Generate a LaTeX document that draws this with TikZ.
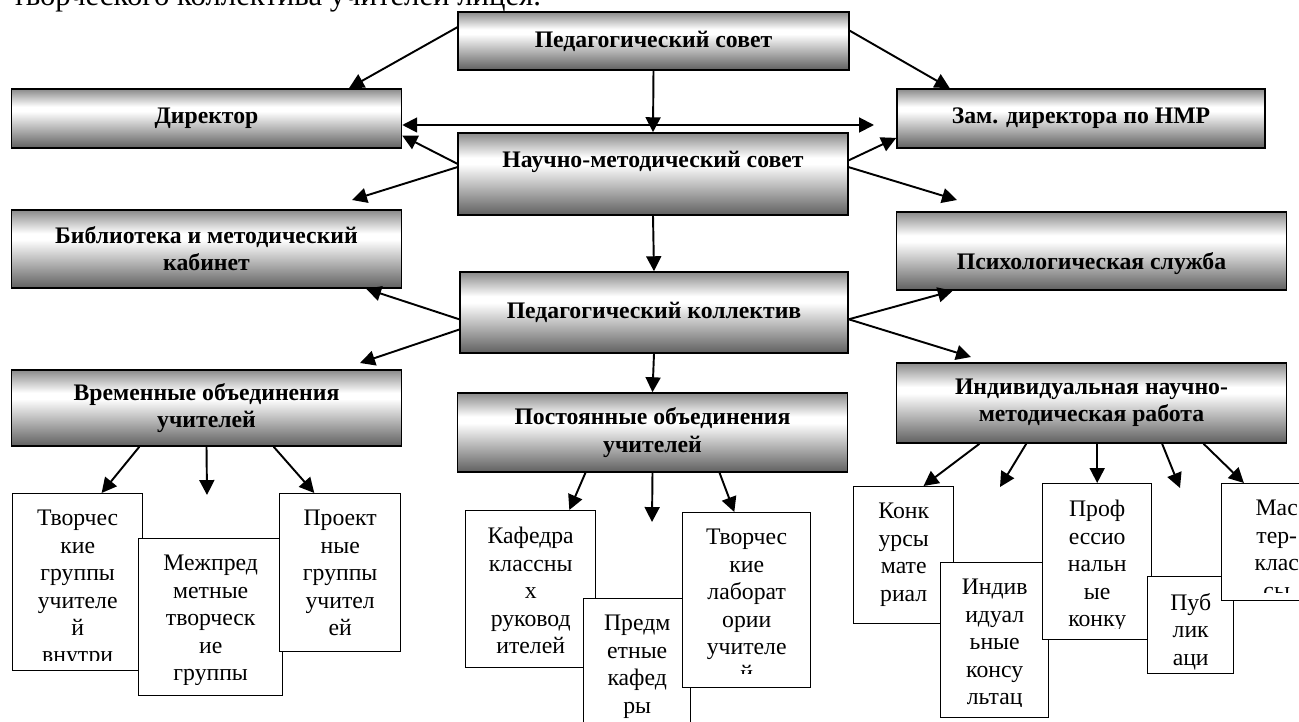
\documentclass[tikz,border=0pt]{standalone}
\usepackage{fontspec}
\setmainfont{Liberation Serif}
\usetikzlibrary{arrows.meta,calc}
\definecolor{boxtop}{RGB}{138,138,138}
\definecolor{boxbot}{RGB}{96,96,96}
\pgfdeclareverticalshading{boxshade}{100bp}{color(0bp)=(boxbot); color(25bp)=(boxbot); color(56bp)=(white); color(60bp)=(white); color(75bp)=(boxtop); color(100bp)=(boxtop)}
% white box with its text cut off at the bottom
\newcommand{\cutbox}[7][12]{%
  \node[wbox,minimum width=#5*0.02cm,minimum height=#6*0.02cm] (#2) at (#3,#4) {};
  \begin{scope}
    \clip ($(#2.north west)+(2,2)$) rectangle ($(#2.south east)+(-2,-#1)$);
    \node[wtext] (#2-t) at ($(#2.north)+(0,17)$) {#7};
  \end{scope}}

\begin{document}
\begin{tikzpicture}[x=0.02cm, y=-0.02cm, >={Triangle[length=8.5pt,width=8.5pt]},
    gbox/.style={draw=black,line width=0.9pt,shading=boxshade,minimum width=7.8cm,align=center,inner sep=2pt,font=\bfseries\fontsize{13.5}{15.5}\selectfont},
    wbox/.style={draw=black,line width=0.8pt,fill=white,anchor=north west,inner sep=0pt},
    wtext/.style={anchor=north,inner sep=0pt,align=center,font=\fontsize{13.5}{15.6}\selectfont},
    arr/.style={->,line width=1.1pt}]
  \useasboundingbox (0,0) rectangle (1299,722);
  \node[anchor=base west,inner sep=0pt,font=\fontsize{17.5}{20}\selectfont] (title) at (12,6) {творческого коллектива учителей лицея.};

  \node[gbox,minimum width=7.82cm,minimum height=1.16cm] (ps) at (653.5,41) {Педагогический совет};
  \node[gbox,minimum height=1.18cm] (dir) at (206.5,118.5) {Директор};
  \node[gbox,minimum width=7.36cm,minimum height=1.18cm] (zam) at (1081,118.5) {Зам. директора по НМР};
  \node[gbox,minimum height=1.64cm,text height=9pt,text depth=16pt] (nms) at (653,174) {Научно-методический совет};
  \node[gbox,minimum height=1.56cm] (bib) at (206.5,249) {Библиотека и методический\\кабинет};
  \node[gbox,minimum height=1.56cm,text height=24.6pt,text depth=3pt] (psych) at (1091.5,251) {Психологическая служба};
  \node[gbox,minimum width=7.76cm,minimum height=1.62cm] (pk) at (654,312.5) {Педагогический коллектив};
  \node[gbox,minimum height=1.52cm] (vr) at (206.5,408) {Временные объединения\\учителей};
  \node[gbox,minimum height=1.58cm] (post) at (652.5,432.5) {Постоянные объединения\\учителей};
  \node[gbox,minimum height=1.6cm] (ind) at (1091.5,403) {Индивидуальная научно-\\методическая работа};

  \cutbox[11]{v1}{12}{493}{130}{177}{Творчес\\кие\\группы\\учителе\\й\\внутри}
  \cutbox{v2}{138}{538}{144}{157}{Межпред\\метные\\творческ\\ие\\группы}
  \cutbox{v3}{279}{493}{121}{158}{Проект\\ные\\группы\\учител\\ей}
  \cutbox{p1}{465}{510}{130}{157}{Кафедра\\классны\\х\\руковод\\ителей}
  \cutbox{p2}{583}{598}{107}{162}{Предм\\етные\\кафед\\ры}
  \cutbox[15]{p3}{682}{512}{128}{175}{Творчес\\кие\\лаборат\\ории\\учителе\\й}
  \cutbox{i1}{853}{486}{100}{137}{Конк\\урсы\\мате\\риал}
  \cutbox{i2}{940}{562}{108}{155}{Индив\\идуал\\ьные\\консу\\льтац}
  \cutbox{i3}{1042}{483}{109}{156}{Проф\\ессио\\нальн\\ые\\конку}
  \cutbox[4]{i4}{1147}{576}{86}{97}{Пуб\\лик\\аци}
  \cutbox[9]{i5}{1221}{483}{110}{117}{Мас\\тер-\\клас\\сы}

  \coordinate (hr) at (874,125);
  \coordinate (t1) at (352,200);
  \coordinate (t2) at (957,200);
  \coordinate (t3) at (360,363);
  \coordinate (t4) at (971,357);
  \coordinate (t5) at (207,495);
  \coordinate (t6) at (652,522);
  \coordinate (t7) at (1000,487);
  \coordinate (t8) at (1180,488);

  \draw[arr,<->] (hr -| dir.east) -- (hr);
  \foreach \x/\y in {ps.176/dir.12,ps.3/zam.167,ps.south/nms.north,nms.177/dir.355,nms.178/t1,nms.4/zam.186,nms.2/t2,nms.south/pk.north,pk.182/bib.346,pk.185/t3,pk.358/psych.196,pk.358/t4,pk.south/post.north}
    {\draw[arr] (\x)--(\y);}
  \foreach \x/\y in {vr.210/v1.75,vr.south/t5,vr.330/v3.108,post.211/p1.64,post.south/t6,post.329/p3.98,ind.200/i1.74,ind.212/t7,ind.330/t8,ind.340/i5.119}
    {\draw[arr] (\x)--(\y);}
  \draw[arr] (i3.north |- ind.south) -- (i3.north);
\end{tikzpicture}
\end{document}
